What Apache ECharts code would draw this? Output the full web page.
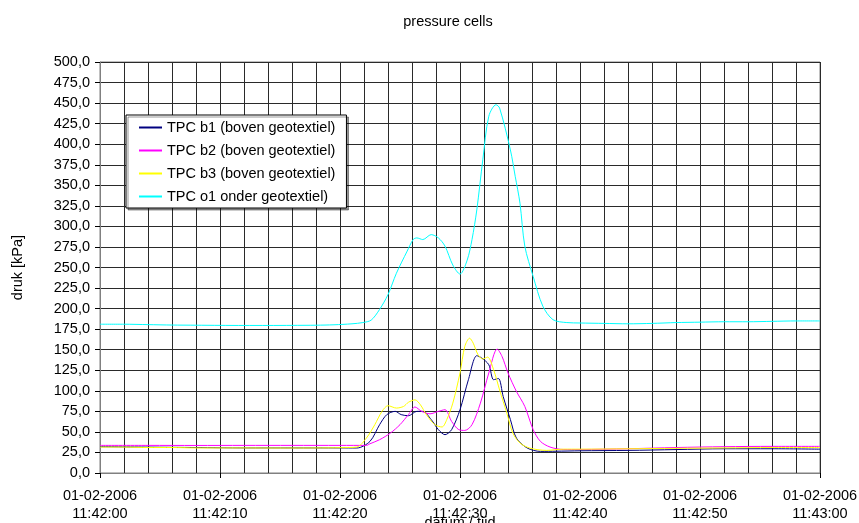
<!DOCTYPE html>
<html>
<head>
<meta charset="utf-8">
<script src="https://cdn.jsdelivr.net/npm/echarts@6/dist/echarts.min.js"></script>
<style>html,body{margin:0;padding:0;background:#fff}#c{width:859px;height:523px}</style>
</head>
<body>
<div id="c"></div>
<script>
// seconds after 01-02-2006 11:42:00
const xTickLabels = ['01-02-2006\n11:42:00','01-02-2006\n11:42:10','01-02-2006\n11:42:20','01-02-2006\n11:42:30','01-02-2006\n11:42:40','01-02-2006\n11:42:50','01-02-2006\n11:43:00'];
const seriesNames = ['TPC b1 (boven geotextiel)','TPC b2 (boven geotextiel)','TPC b3 (boven geotextiel)','TPC o1 onder geotextiel)'];

const b1Times = [0,4,8,12,16,20,21.4,22.5,23.3,23.9,24.6,25.1,25.7,26.4,26.9,27.6,28.2,28.75,29.3,30.0,30.7,31.4,31.8,32.4,32.8,33.2,33.6,34.2,34.7,35.6,36.7,38,40,44,48,52,56,60];
const b1Values = [32,31.5,31,30.5,30.5,30.5,30.4,38.5,58.8,71,75,71,69.7,75,75,65,52.7,46.6,52.7,77,113.5,142.7,140,131.7,113.5,115,93,65,42.5,30.4,26.3,26.5,27,27.5,28.5,29.5,29.5,29];

const b2Times = [0,4,8,12,16,20,22.2,22.5,23.3,24.2,25.0,25.7,26.25,26.8,27.5,28.2,28.75,29.3,29.9,30.4,31.0,31.7,32.4,33.1,33.5,34.0,34.7,35.4,36.1,36.7,37.5,38.6,40,44,48,52,56,60];
const b2Values = [33.6,33.6,33.5,33.6,33.6,33.6,33.6,35.6,40.5,48.6,58.8,71,80.3,75,72,75,77,62.8,52.7,51.8,58.8,85,121.7,150.8,141.9,121.7,99.3,81,52.7,38.5,31.6,28.6,28.6,29.5,31,32,32.4,32.4];

const b3Times = [0,2,4,6,8,10,12,14,16,18,20,21.4,22.2,22.9,23.5,24.0,24.7,25.3,25.7,26.25,26.7,27.2,27.9,28.5,28.9,29.4,30.0,30.4,30.8,31.1,31.5,31.9,32.3,32.8,33.3,33.9,34.4,35.0,35.8,37.2,38.6,40,44,48,52,56,60];
const b3Values = [31.5,31.5,31,31,30.5,30.5,30.5,30.4,30.4,30.5,30.8,31.6,42.5,58.8,75,81.9,79,81,86,89,83,71,58.8,56,65,85,121.7,154,164,158,144,138.7,141,125.7,101,73,48.7,36.5,30.4,27.5,29,29,29.5,30,30.5,31,31];

const o1Times = [0,2,4,6,8,10,12,14,16,18,19.5,21.0,21.9,22.6,23.3,24.0,24.7,25.6,26.1,26.4,26.9,27.6,28.2,28.75,29.4,30.0,30.6,31.0,31.4,31.9,32.4,33.0,33.3,34.2,34.6,35.0,35.4,36.1,36.9,37.75,38.9,40,42,44,46,48,50,52,54,56,58,60];
const o1Values = [181,181,180.5,180,179.8,179.6,179.5,179.5,179.6,179.8,180.3,181.5,183,186,199,217,243,270,284,286,284,290,286,276,253,242,259,284,320,381,434,448,444,393,361,328,276,239,203,186.5,183,182.5,182,181.5,182,183,183.5,184,184,184.5,185,185];

const colors = ['#000080','#ff00ff','#ffff00','#00ffff'];
const allTimes = [b1Times,b2Times,b3Times,o1Times];
const allValues = [b1Values,b2Values,b3Values,o1Values];

const FONT = 'Liberation Sans';
const gridLine = {color:'#2a2a2a', width:1};

const chart = echarts.init(document.getElementById('c'));
chart.setOption({
  animation:false,
  backgroundColor:'#fff',
  title:{text:'pressure cells', left:443, top:9, textAlign:'center',
    textStyle:{fontFamily:FONT, fontSize:14.5, fontWeight:'normal', color:'#000'}},
  grid:{left:100, right:39, top:62, bottom:50, outerBoundsMode:'none', containLabel:false,
    show:true, borderColor:'#808080', borderWidth:1, backgroundColor:'transparent'},
  legend:{
    orient:'vertical', left:126, top:115,
    backgroundColor:'#fff', borderColor:'#000', borderWidth:1,
    padding:[5,11,4,13], itemWidth:23, itemHeight:2, itemGap:8,
    icon:'rect',
    shadowColor:'rgba(0,0,0,0.4)', shadowOffsetX:2, shadowOffsetY:2, shadowBlur:0,
    textStyle:{fontFamily:FONT, fontSize:14.5, color:'#000', lineHeight:14},
    data:seriesNames
  },
  xAxis:{
    type:'value', min:0, max:60, interval:10,
    name:'datum / tijd', nameLocation:'middle', nameGap:42, nameMoveOverlap:false,
    nameTextStyle:{fontFamily:FONT, fontSize:14.5, color:'#000'},
    axisLine:{show:true, lineStyle:{color:'#808080'}},
    axisTick:{show:true, length:5, lineStyle:{color:'#000'}},
    axisLabel:{fontFamily:FONT, fontSize:14.5, color:'#000', margin:14, lineHeight:18,
      formatter:function(v){return xTickLabels[Math.round(v/10)];}},
    splitLine:{show:true, lineStyle:gridLine},
    minorTick:{show:false, splitNumber:5},
    minorSplitLine:{show:true, lineStyle:gridLine}
  },
  yAxis:{
    type:'value', min:0, max:500, interval:25,
    name:'druk [kPa]', nameLocation:'middle', nameGap:75, nameMoveOverlap:false,
    nameTextStyle:{fontFamily:FONT, fontSize:14.5, color:'#000'},
    axisLine:{show:true, lineStyle:{color:'#808080'}},
    axisTick:{show:true, length:5, lineStyle:{color:'#000'}},
    axisLabel:{fontFamily:FONT, fontSize:14.5, color:'#000', margin:10,
      formatter:function(v){return v.toFixed(1).replace('.',',');}},
    splitLine:{show:true, lineStyle:gridLine}
  },
  series: seriesNames.map(function(n,i){
    return {
      name:n, type:'line', symbol:'none', showSymbol:false, smooth:0.3,
      color:colors[i],
      lineStyle:{color:colors[i], width:1},
      data: allTimes[i].map(function(t,k){return [t, allValues[i][k]];})
    };
  })
});
</script>
</body>
</html>
